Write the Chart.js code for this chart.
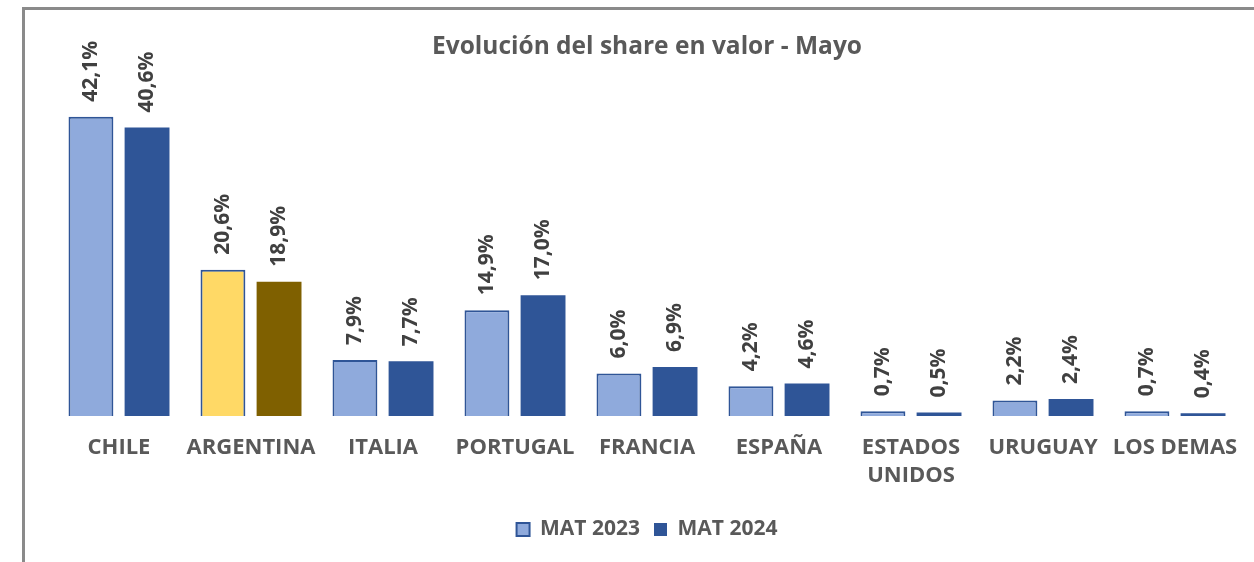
<!DOCTYPE html>
<html>
<head>
<meta charset="utf-8">
<script src="https://cdn.jsdelivr.net/npm/chart.js@4.4.1/dist/chart.umd.min.js"></script>
<style>
  html, body { margin: 0; padding: 0; background: #fff; }
  #wrap { position: relative; width: 1254px; height: 562px; overflow: hidden; }
  #frame {
    position: absolute; left: 22px; top: 7px; width: 1300px; height: 600px;
    border-left: 3px solid #8a8a8a; border-top: 3px solid #8a8a8a;
  }
  #myChart { position: absolute; left: 0; top: 0; }
</style>
</head>
<body>
<div id="wrap">
  <div id="frame"></div>
  <canvas id="myChart" width="1254" height="562"></canvas>
</div>
<script>
const paises = ['CHILE', 'ARGENTINA', 'ITALIA', 'PORTUGAL', 'FRANCIA', 'ESPAÑA', ['ESTADOS', 'UNIDOS'], 'URUGUAY', 'LOS DEMAS'];
const mat2023 = [42.1, 20.6, 7.9, 14.9, 6.0, 4.2, 0.7, 2.2, 0.7];
const mat2024 = [40.6, 18.9, 7.7, 17.0, 6.9, 4.6, 0.5, 2.4, 0.4];
const series = ['MAT 2023', 'MAT 2024'];

const FONT = "'Open Sans', sans-serif";

// Argentina va destacada con otros colores
const color2023 = paises.map(p => p === 'ARGENTINA' ? '#FFD966' : '#8FAADC');
const color2024 = paises.map(p => p === 'ARGENTINA' ? '#7F6000' : '#2F5597');

// etiquetas verticales con el valor encima de cada barra
const etiquetasVerticales = {
    id: 'etiquetasVerticales',
    afterDatasetsDraw(chart) {
        const ctx = chart.ctx;
        ctx.save();
        ctx.font = "bold 21px " + FONT;
        ctx.fillStyle = '#404040';
        ctx.textAlign = 'left';
        ctx.textBaseline = 'middle';
        chart.data.datasets.forEach((ds, i) => {
            chart.getDatasetMeta(i).data.forEach((bar, j) => {
                const txt = ds.data[j].toFixed(1).replace('.', ',') + '%';
                ctx.save();
                ctx.translate(bar.x, bar.y - 15);
                ctx.rotate(-Math.PI / 2);
                ctx.fillText(txt, 0, 0);
                ctx.restore();
            });
        });
        ctx.restore();
    }
};

const data = {
    labels: paises,
    datasets: [{
        label: series[0],
        data: mat2023,
        backgroundColor: color2023,
        borderColor: '#2F5597',
        borderWidth: 2,
        categoryPercentage: 0.85,
        barPercentage: 0.8
    }, {
        label: series[1],
        data: mat2024,
        backgroundColor: color2024,
        borderWidth: 0,
        categoryPercentage: 0.85,
        barPercentage: 0.8
    }]
};

new Chart(document.getElementById('myChart'), {
    type: 'bar',
    data,
    plugins: [etiquetasVerticales],
    options: {
        responsive: false,
        animation: false,
        layout: { padding: { left: 53, right: 13, top: 0, bottom: 12 } },
        plugins: {
            title: {
                display: true,
                text: 'Evolución del share en valor - Mayo',
                color: '#595959',
                font: { family: FONT, size: 24.5, weight: 'bold' },
                padding: { top: 32, bottom: 17 }
            },
            legend: {
                position: 'bottom',
                labels: {
                    color: '#595959',
                    font: { family: FONT, size: 21, weight: 'bold' },
                    boxWidth: 13,
                    boxHeight: 13,
                    padding: 14
                }
            },
            tooltip: { enabled: false }
        },
        scales: {
            x: {
                grid: { display: false },
                border: { display: false },
                afterFit(scale) {
                    // espacio extra entre los nombres y la leyenda
                    scale.height += 5;
                },
                ticks: {
                    color: '#595959',
                    font: { family: FONT, size: 22, weight: 'bold', lineHeight: 1.27 },
                    padding: 10,
                    maxRotation: 0,
                    autoSkip: false
                }
            },
            y: {
                display: false,
                min: 0,
                max: 47.5
            }
        }
    }
});
</script>
</body>
</html>
